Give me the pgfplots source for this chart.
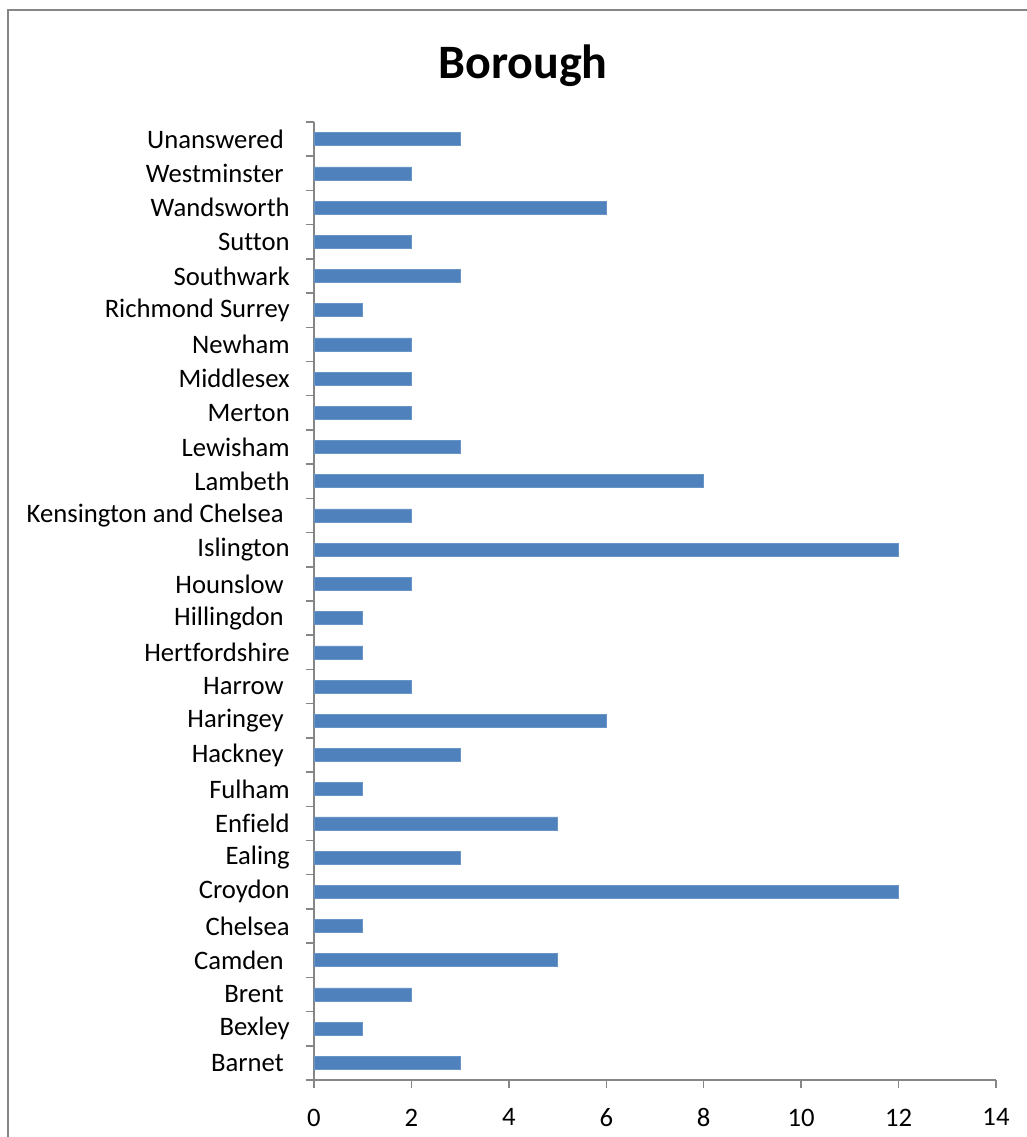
\documentclass[border=0pt]{standalone}
\usepackage{pgfplots}
\pgfplotsset{compat=1.18}
\usepackage{fontspec}
\setmainfont{Carlito}[Ligatures=NoCommon]
\definecolor{barblue}{HTML}{4F81BD}
\definecolor{axgray}{HTML}{868686}
\newcommand{\trsp}{\rule{4.5pt}{0pt}}
\begin{document}
\begin{tikzpicture}
\begin{axis}[
  scale only axis,
  width=511.5pt, height=718.5pt,
  xbar, bar width=9.75pt,
  xmin=0, xmax=14,
  ymin=-0.5, ymax=27.5,
  axis lines*=left,
  axis line style={axgray, line width=1.1pt},
  xtick={0,2,...,14},
  ytick={-0.5,0.5,...,27.5},
  y tick label as interval,
  yticklabels={Barnet\trsp,Bexley,Brent\trsp,Camden\trsp,Chelsea,Croydon,Ealing,Enfield,Fulham,Hackney\trsp,Haringey\trsp,Harrow\trsp,Hertfordshire,Hillingdon\trsp,Hounslow\trsp,Islington,Kensington and Chelsea\trsp,Lambeth,Lewisham,Merton,Middlesex,Newham,Richmond Surrey,Southwark,Sutton,Wandsworth,Westminster\trsp,Unanswered\trsp},
  tick align=outside,
  major tick length=6pt,
  tick style={axgray, line width=1.1pt},
  /pgf/number format/assume math mode=true,
  tick label style={font=\fontsize{20}{23}\selectfont, text=black},
  yticklabel style={inner sep=0pt, xshift=-12pt},
  xticklabel style={yshift=-12pt},
  title={Borough},
  title style={font=\bfseries\fontsize{36}{40}\selectfont, at={(rel axis cs:0.3065,1)}, anchor=center, yshift=36pt},
]
\addplot[fill=barblue, draw=barblue!85!white] coordinates {
(3,0) (1,1) (2,2) (5,3) (1,4) (12,5) (3,6) (5,7) (1,8) (3,9) (6,10) (2,11) (1,12) (1,13) (2,14) (12,15) (2,16) (8,17) (3,18) (2,19) (2,20) (2,21) (1,22) (3,23) (2,24) (6,25) (2,26) (3,27)
};
\end{axis}
\draw[axgray, line width=1.1pt] (-229.5pt,-60pt) -- (-229.5pt,802.5pt) -- (560pt,802.5pt);
\pgfresetboundingbox
\path[use as bounding box] (-235.5pt,-42.75pt) rectangle (534pt,810pt);
\end{tikzpicture}
\end{document}
